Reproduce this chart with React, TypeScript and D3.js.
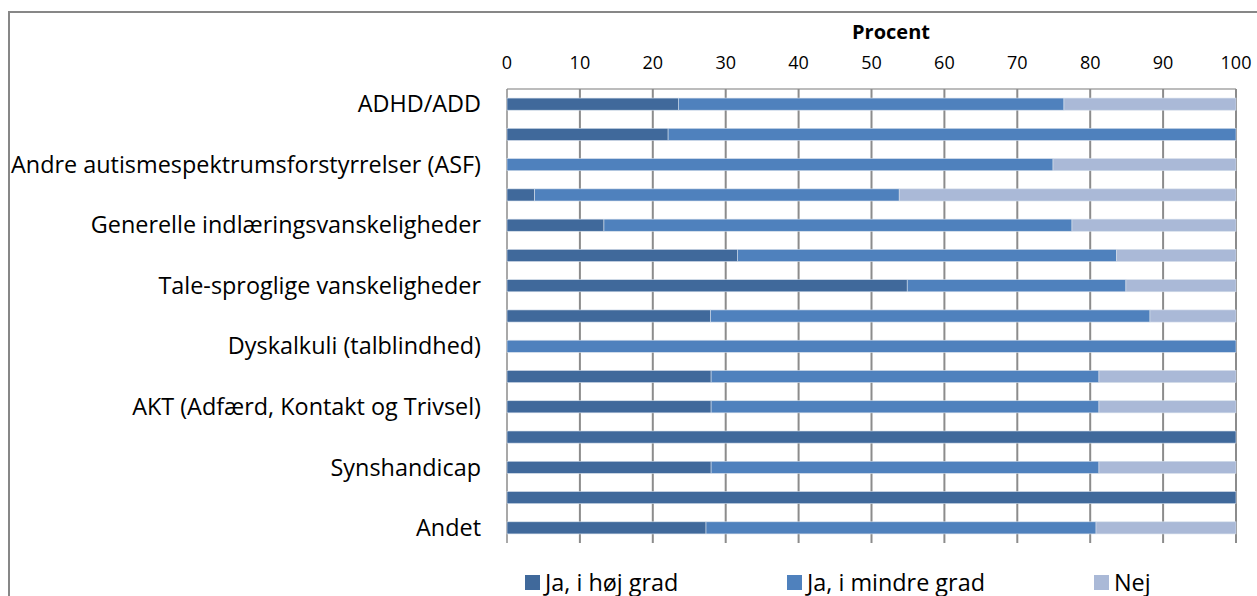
import React from "react";
import * as d3 from "d3";

const categories = [
  "ADHD/ADD",
  "",
  "Andre autismespektrumsforstyrrelser (ASF)",
  "",
  "Generelle indlæringsvanskeligheder",
  "",
  "Tale-sproglige vanskeligheder",
  "",
  "Dyskalkuli (talblindhed)",
  "",
  "AKT (Adfærd, Kontakt og Trivsel)",
  "",
  "Synshandicap",
  "",
  "Andet",
];

const hojGrad = [23.5, 22.1, 0, 3.8, 13.3, 31.6, 54.9, 27.9, 0, 28.0, 28.0, 100, 28.0, 100, 27.3];
const mindreGrad = [52.9, 77.9, 74.9, 50.0, 64.2, 52.0, 30.0, 60.3, 100, 53.2, 53.2, 0, 53.2, 0, 53.5];
const nej = [23.6, 0, 25.1, 46.2, 22.5, 16.4, 15.1, 11.8, 0, 18.8, 18.8, 0, 18.8, 0, 19.2];

const seriesNames = ["Ja, i høj grad", "Ja, i mindre grad", "Nej"];
const seriesColors = ["#40699B", "#4F81BD", "#AAB9D7"];
const xTicks = [0, 10, 20, 30, 40, 50, 60, 70, 80, 90, 100];
const axisTitle = "Procent";

const W = 1257;
const H = 596;
const FONT = "'Open Sans', Lato, sans-serif";

export default function App() {
  const x = d3.scaleLinear().domain([0, 100]).range([507, 1236]);
  const y = d3
    .scaleBand<number>()
    .domain(d3.range(categories.length))
    .range([89, 543])
    .paddingInner(0.6)
    .paddingOuter(0.3);

  const rows = categories.map((c, i) => ({ i, v: [hojGrad[i], mindreGrad[i], nej[i]] }));
  const stack = d3
    .stack<{ i: number; v: number[] }, number>()
    .keys([0, 1, 2])
    .value((d, k) => d.v[k]);
  const stacked = stack(rows);

  const legendX = [525, 787, 1094];

  return (
    <svg
      width={W}
      height={H}
      style={{ position: "absolute", left: 0, top: 0, background: "#fff" }}
      fontFamily={FONT}
    >
      <rect x={9} y={12} width={1300} height={700} fill="#fff" stroke="#878787" strokeWidth={2} />
      {/* top axis line */}
      <line x1={x(0)} x2={x(100)} y1={89} y2={89} stroke="#A6A6A6" strokeWidth={1.5} />
      {/* gridlines */}
      {xTicks.map((t) => (
        <line
          key={"g" + t}
          x1={x(t)}
          x2={x(t)}
          y1={89}
          y2={543}
          stroke="#8C8C8C"
          strokeWidth={t === 0 ? 1.5 : 2}
        />
      ))}
      {/* bars */}
      {stacked.map((s, k) => (
        <g key={"s" + k} fill={seriesColors[k]}>
          {s.map((d, i) =>
            d[1] - d[0] > 0 ? (
              <rect
                key={i}
                x={x(d[0])}
                y={y(i)!}
                width={x(d[1]) - x(d[0])}
                height={y.bandwidth()}
                stroke="#D5DEEA"
                strokeWidth={0.6}
              />
            ) : null
          )}
        </g>
      ))}
      {/* tick labels */}
      {xTicks.map((t) => (
        <text key={"t" + t} x={x(t)} y={69} textAnchor="middle" fontSize={18} fill="#000">
          {t}
        </text>
      ))}
      <text x={891} y={39} textAnchor="middle" fontSize={20} fontWeight="bold" fill="#000">
        {axisTitle}
      </text>
      {/* category labels */}
      {categories.map((c, i) =>
        c ? (
          <text
            key={"c" + i}
            x={481}
            y={y(i)! + y.bandwidth() / 2}
            dy="0.35em"
            textAnchor="end"
            fontSize={23.4}
            fill="#000"
          >
            {c}
          </text>
        ) : null
      )}
      {/* legend */}
      {seriesNames.map((n, k) => (
        <g key={"l" + k}>
          <rect x={legendX[k]} y={575} width={15} height={15} fill={seriesColors[k]} />
          <text x={legendX[k] + 20} y={583} dy="0.35em" fontSize={23.4} fill="#000">
            {n}
          </text>
        </g>
      ))}
    </svg>
  );
}
